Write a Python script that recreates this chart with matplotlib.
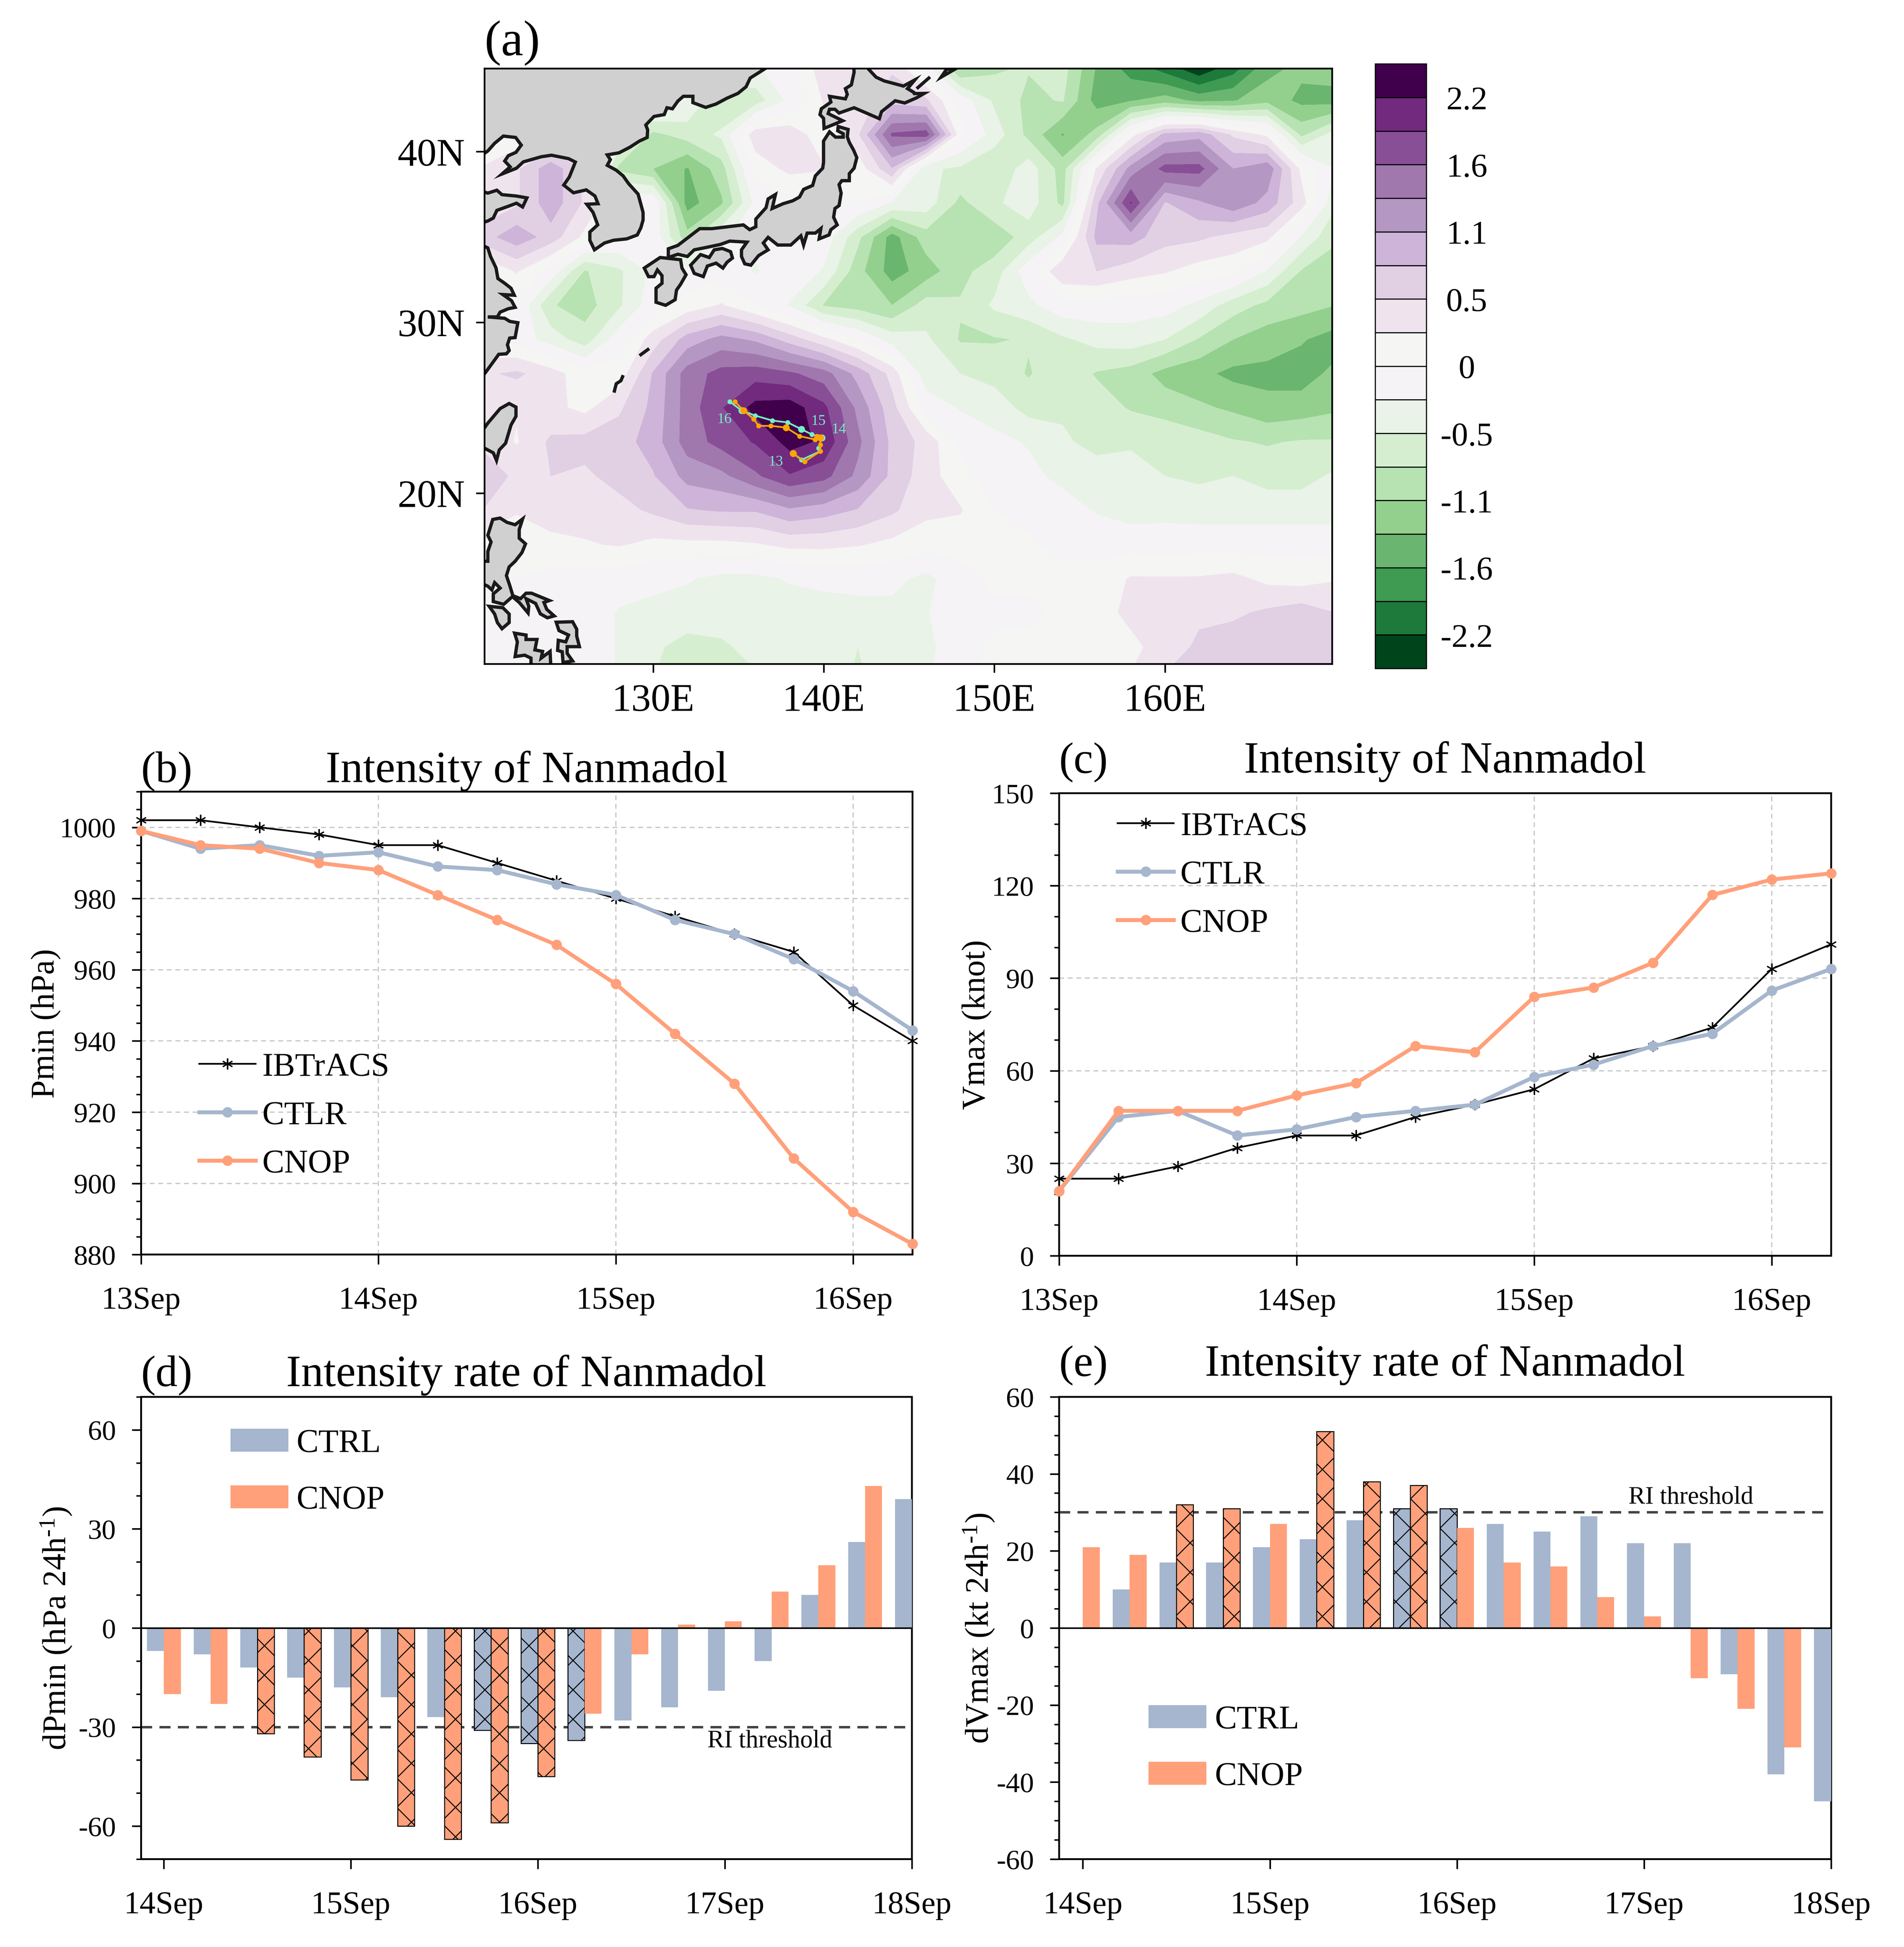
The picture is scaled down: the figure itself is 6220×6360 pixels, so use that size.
import matplotlib
matplotlib.use("Agg")
import matplotlib.pyplot as plt
import numpy as np
from matplotlib.patches import Polygon
from matplotlib.ticker import MultipleLocator

plt.rcParams["font.family"] = ["Liberation Serif", "DejaVu Serif"]
plt.rcParams["mathtext.fontset"] = "custom"
plt.rcParams["mathtext.rm"] = "Liberation Serif"
plt.rcParams["mathtext.default"] = "rm"
plt.rcParams["axes.unicode_minus"] = False
plt.rcParams["hatch.linewidth"] = 0.8

W, H = 6480, 6626

# --- panel (a): field, one row per latitude, 120E..170E every 2 deg
lons = np.arange(120, 171, 2)
lats = np.arange(45, 8, -2)
row45 = [.1, .1, .1, .1, .1, .1, .1, -.1, -.3, -.1, .45, .3, .5, -.2, -1.2, -.9, -.8, -.7, -1.4, -1.8, -2.1, -2.5, -2.1, -1.5, -1.3, -1.2]
row43 = [.1, .1, .1, .1, .1, 0, -.3, -.8, -.7, -.2, .3, .4, .7, .6, -.1, -.6, -.9, -.8, -1.5, -1.4, -1.25, -1.45, -1.4, -1.2, -1.45, -1.5]
row41 = [0, .1, .1, .1, -.3, -.9, -.7, -.5, .45, .45, .1, .5, 1.7, 1.8, .1, -.4, -.9, -1.4, -1.0, .15, .9, 1.0, .5, .2, -.9, -.4]
row39 = [.3, .5, 1.0, .5, -.9, -1.1, -1.4, -.95, .1, .35, .3, .1, .8, -.5, -.6, -.8, -.4, -.95, .3, 1.2, 1.75, 1.75, 1.1, 1.3, .2, -.3]
row37 = [.3, .5, 1.0, .5, 0, 0, -1.5, -1.15, -.2, -.1, -.1, 0, -.3, -.4, -.9, -.6, -.4, -.9, .75, 1.95, .8, 1.05, 1.3, 1.0, .4, -.5]
row35 = [.7, 1.0, .7, .2, 0, -.1, -1.0, -.3, -.2, -.2, -.1, -.75, -1.5, -.95, -1.0, -1.0, -.7, -.2, .9, .95, .65, .6, .45, .35, -.3, -.8]
row33 = [0, .3, -.1, -.85, -.6, -.2, -.2, -.1, -.3, -.1, -.3, -1.0, -1.5, -1.25, -.9, -.7, -.1, .5, .55, .4, .3, .15, .1, -.3, -.85, -.9]
row31 = [0, 0, -.8, -.95, -.6, -.1, .1, .3, 0, -.3, -.85, -.95, -1.1, -.7, -.8, -.5, -.35, -.1, -.1, -.15, -.15, -.35, -.7, -.9, -1.0, -1.1]
row29 = [0, -.1, -.4, -.7, -.1, .4, .95, 1.2, 1.05, .7, .35, 0, -.4, -.5, -.85, -.85, -.8, -.6, -.45, -.4, -.55, -.85, -1.1, -1.25, -1.35, -1.5]
row27 = [.5, .6, .4, .1, .1, .85, 1.5, 1.75, 1.8, 1.7, 1.5, 1.0, .45, -.45, -.55, -.65, -.85, -.65, -.85, -.95, -1.2, -1.3, -1.45, -1.45, -1.5, -1.3]
row25 = [.3, .3, .35, .2, .5, .9, 1.5, 1.9, 2.3, 2.35, 2.0, 1.3, .65, -.1, -.3, -.4, -.65, -.6, -.7, -.85, -.95, -1.05, -1.15, -1.3, -1.25, -1.15]
row23 = [.5, .25, .6, .65, .7, .95, 1.5, 1.75, 1.95, 2.3, 2.15, 1.45, .75, .45, -.05, -.2, -.3, -.5, -.65, -.6, -.6, -.7, -.8, -.85, -.8, -.8]
row21 = [.7, .5, .55, .5, .65, .8, 1.2, 1.3, 1.6, 1.9, 1.75, 1.3, .75, .4, .1, -.15, -.2, -.35, -.4, -.4, -.55, -.6, -.55, -.65, -.65, -.5]
row19 = [.55, .3, .4, .4, .45, .6, .8, .85, .85, 1.05, .95, .8, .6, .35, .3, 0, -.1, -.15, -.3, -.4, -.35, -.4, -.4, -.4, -.4, -.4]
row17 = [.1, .1, .2, .25, .3, .2, .2, .2, .25, .35, .35, .3, .2, .1, .1, .05, .05, -.1, -.1, -.1, -.15, -.1, -.1, -.1, -.1, -.1]
row15 = [-.1, 0, -.1, -.1, -.15, -.2, -.25, -.35, -.35, -.25, -.2, -.2, -.2, -.35, -.1, .05, .05, .1, .1, .3, .3, .3, .35, .2, .15, .25]
row13 = [-.1, -.1, -.1, -.1, -.3, -.35, -.4, -.4, -.4, -.4, -.4, -.35, -.35, -.3, -.05, -.05, -.05, .05, .15, .35, .45, .5, .5, .6, .7, .55]
row11 = [-.1, -.1, -.1, -.1, -.3, -.5, -.65, -.6, -.45, -.4, -.4, -.55, -.4, -.35, -.1, .05, .05, .1, .15, .2, .4, .6, .7, .75, .75, .75]
row09 = [-.1, -.1, -.1, -.1, -.3, -.55, -.65, -.55, -.6, -.45, -.4, -.6, -.4, -.3, -.1, .1, .1, .1, .2, .3, .6, .7, .75, .8, .8, .8]
field = np.array([row45, row43, row41, row39, row37, row35, row33, row31, row29, row27,
                  row25, row23, row21, row19, row17, row15, row13, row11, row09])

levels = np.linspace(-2.2, 2.2, 17)
level_colors = ["#00441b", "#1e7a3b", "#3f9a52", "#6ab670", "#93d08e", "#b7e2b2", "#d5eed0", "#e9f3e7", "#f5f3f6",
                "#f5f5f3", "#efe4ee", "#e1cfe4", "#cdb4d8", "#b497c3", "#a078ad", "#884f96", "#722a7f", "#40004b"]
cbar_labels = ["-2.2", "-1.6", "-1.1", "-0.5", "0", "0.5", "1.1", "1.6", "2.2"]

# coast polygons, lon/lat
land = [
    [(137.1, 45.2), (135.69, 44.31), (135.45, 43.8), (134.97, 43.41), (134.33, 43.13), (133.69, 42.79), (133.08, 42.59),
     (132.33, 42.87), (132.33, 43.24), (131.77, 43.24), (131.45, 42.96), (131.13, 42.51), (130.81, 42.57), (130.65, 42.17),
     (130.05, 42.06), (129.57, 41.56), (129.68, 41.27), (129.65, 40.83), (129.2, 40.62), (128.64, 40.26), (128.0, 39.93),
     (127.31, 39.81), (127.49, 39.53), (127.31, 39.2), (127.84, 38.91), (128.24, 38.58), (128.56, 38.13), (129.12, 37.51),
     (129.41, 36.44), (129.41, 35.99), (129.28, 35.54), (129.07, 35.12), (128.45, 34.89), (127.68, 34.81), (127.15, 34.65),
     (126.56, 34.25), (126.29, 34.81), (126.29, 35.29), (126.75, 35.71), (126.48, 36.44), (126.11, 36.92), (126.77, 36.95),
     (126.59, 37.4), (126.08, 37.76), (125.33, 37.59), (124.76, 38.04), (125.09, 38.52), (125.44, 39.39), (125.04, 39.59),
     (124.04, 39.79), (123.44, 39.7), (122.39, 39.4), (121.99, 39.03), (121.14, 38.69), (121.62, 39.11), (121.3, 39.45),
     (121.51, 39.76), (121.96, 39.96), (122.27, 40.38), (121.94, 40.83), (121.22, 40.91), (120.71, 40.49), (120.31, 40.04),
     (119.67, 39.59), (119, 46), (137.1, 46)],
    [(120.31, 37.57), (120.84, 37.74), (121.14, 37.48), (121.99, 37.4), (122.6, 37.29), (122.35, 36.76), (121.99, 36.98),
     (121.51, 36.8), (120.84, 36.56), (120.63, 36.11), (120.31, 35.94), (119, 35.5), (119, 38)],
    [(119, 35), (120.31, 34.36), (120.47, 33.86), (120.79, 33.19), (120.9, 32.57), (121.3, 32.29), (121.67, 32.0),
     (121.86, 31.59), (121.19, 31.63), (121.7, 31.27), (121.91, 30.88), (121.51, 30.8), (121.03, 30.6), (120.87, 30.32),
     (120.31, 30.32), (121.3, 30.24), (121.59, 30.06), (122.07, 29.98), (121.91, 29.11), (121.59, 29.08), (121.46, 28.69),
     (121.56, 28.35), (121.4, 28.16), (120.95, 28.13), (120.31, 27.25), (119, 25.5)],
    [(129.48, 33.18), (130.41, 33.8), (130.89, 33.75), (131.61, 33.67), (131.69, 33.18), (131.93, 32.79), (131.61, 32.23),
     (131.37, 31.89), (131.29, 31.33), (130.73, 31.0), (130.17, 31.18), (130.17, 32.0), (130.52, 32.29), (130.52, 32.74),
     (130.25, 33.07), (130.05, 32.68), (129.73, 32.68)],
    [(130.89, 33.8), (130.89, 34.31), (131.45, 34.51), (132.73, 35.49), (133.45, 35.49), (135.29, 35.71), (135.66, 35.43),
     (136.02, 35.6), (136.02, 36.05), (136.62, 36.72), (136.74, 37.23), (137.17, 37.49), (136.98, 36.67), (137.62, 36.95),
     (138.18, 37.12), (138.58, 37.34), (138.82, 37.79), (139.35, 38.02), (139.51, 38.58), (139.94, 39.03), (139.99, 39.37),
     (139.99, 40.62), (140.34, 41.16), (140.69, 40.85), (141.14, 40.85), (141.14, 41.05), (140.82, 41.22), (140.85, 41.47),
     (141.43, 41.3), (141.38, 40.88), (141.5, 40.54), (141.75, 40.09), (141.94, 39.65), (141.78, 39.03), (141.5, 38.71),
     (141.5, 38.3), (141.06, 38.3), (140.9, 38.07), (141.02, 37.57), (140.9, 36.84), (140.66, 36.67), (140.58, 36.16),
     (140.79, 35.71), (140.42, 35.43), (140.31, 35.12), (139.73, 34.89), (139.83, 35.49), (139.51, 35.23), (139.03, 35.23),
     (138.82, 34.53), (138.66, 35.07), (138.07, 34.53), (137.3, 34.53), (136.74, 34.98), (136.46, 34.65), (136.74, 34.25),
     (136.18, 33.91), (135.73, 33.35), (135.37, 33.43), (135.18, 33.86), (135.18, 34.25), (135.5, 34.7), (134.49, 34.76),
     (133.93, 34.56), (132.97, 34.36), (132.41, 34.25), (132.01, 33.86), (131.45, 33.99)],
    [(132.2, 33.35), (132.78, 33.97), (133.29, 33.8), (133.58, 34.25), (134.06, 34.33), (134.54, 34.14), (134.65, 33.77),
     (134.33, 33.52), (134.09, 33.18), (133.69, 33.47), (133.18, 33.3), (132.94, 32.68), (132.41, 32.87)],
    [(141.7, 46), (141.78, 44.65), (141.62, 43.91), (141.27, 43.69), (141.38, 43.35), (141.27, 43.09), (140.34, 43.24),
     (140.42, 42.9), (139.86, 42.51), (139.78, 42.17), (139.99, 41.95), (140.02, 41.36), (141.11, 41.81), (140.26, 42.23),
     (140.34, 42.48), (140.66, 42.48), (140.9, 42.26), (141.78, 42.57), (142.5, 42.26), (143.26, 41.93), (143.39, 42.34),
     (144.19, 42.98), (144.75, 42.85), (145.44, 43.15), (145.89, 43.41), (145.31, 43.4), (145.28, 43.47), (144.91, 43.69),
     (145.34, 44.2), (144.67, 43.84), (143.55, 44.14), (143.07, 44.36), (142.59, 44.87), (142.5, 46)],
    [(146.88, 44.36), (147.2, 44.82), (147.9, 44.95), (147.5, 44.72)],
    [(121.56, 25.25), (121.96, 25.04), (121.96, 24.5), (121.67, 23.99), (121.35, 22.92), (120.98, 22.53), (120.82, 21.91),
     (120.63, 22.36), (120.31, 22.53), (119.99, 22.7), (119.99, 23.65), (120.31, 24.1), (121.03, 24.95)],
    [(120.6, 18.46), (121.03, 18.54), (121.43, 18.29), (121.91, 18.15), (122.35, 18.49), (122.15, 17.87), (122.15, 17.36),
     (122.52, 17.03), (122.31, 16.52), (121.91, 16.01), (121.56, 15.68), (121.4, 15.17), (121.59, 14.61), (121.78, 13.99),
     (122.23, 13.82), (122.55, 14.14), (122.87, 14.14), (123.92, 13.71), (123.6, 13.6), (123.76, 13.2), (124.2, 12.81),
     (123.8, 12.7), (123.39, 12.93), (123.11, 13.54), (122.55, 13.82), (122.71, 13.38), (122.67, 12.98), (122.15, 13.6),
     (121.75, 13.94), (121.24, 13.49), (120.63, 13.65), (120.63, 14.1), (121.03, 14.44), (120.71, 14.76), (120.55, 14.33),
     (120.31, 14.55), (120.07, 14.66), (120.07, 16.01), (120.31, 16.01), (120.31, 16.58), (120.5, 17.14), (120.31, 17.53)],
    [(120.39, 13.37), (121.19, 13.29), (121.56, 12.92), (121.56, 12.42), (121.14, 12.06), (120.87, 12.42), (120.71, 12.92)],
    [(121.88, 11.8), (122.55, 11.69), (122.55, 11.43), (123.19, 11.43), (123.07, 10.82), (123.52, 10.73), (123.44, 10.34),
     (123.96, 10.73), (124.0, 9.9), (122.84, 9.9), (122.84, 10.34), (122.47, 10.51), (121.91, 10.43), (122.04, 11.29)],
    [(124.32, 12.44), (125.28, 12.47), (125.52, 12.03), (125.52, 11.63), (125.68, 11.01), (124.96, 11.01), (124.96, 10.62),
     (125.28, 10.17), (124.72, 10.08), (124.67, 10.71), (124.4, 10.79), (124.44, 11.38), (124.88, 11.29), (125.04, 11.69),
     (124.48, 11.95)],
]
islet_lines = [
    [(145.52, 43.75), (146.16, 44.31)],
    [(129.28, 28.11), (129.69, 28.41)],
    [(128.21, 26.82), (128.11, 26.58), (127.84, 26.41), (127.73, 25.98)],
]

track_ctrl_lon = [138.2, 138.7, 139.78, 139.7, 139.89, 139.66, 139.3, 138.7, 137.89, 136.99, 135.99, 135.2, 134.5]
track_ctrl_lat = [22.33, 21.95, 22.45, 22.64, 23.25, 23.32, 23.44, 23.74, 24.14, 24.25, 24.54, 24.83, 25.35]
track_ctrl_days = [0, 4, 7, 11]
track_cnop_lon = [138.2, 138.89, 139.8, 139.8, 139.81, 139.58, 139.49, 138.59, 137.79, 136.9, 136.18, 135.9, 135.3, 134.8]
track_cnop_lat = [22.33, 21.85, 22.45, 22.83, 23.25, 23.34, 23.14, 23.34, 23.84, 23.94, 23.94, 24.34, 24.84, 25.35]
track_cnop_days = [0, 4, 8, 12]
day_labels = ["13", "14", "15", "16"]
day_label_lon = [137.2, 140.89, 139.7, 134.18]
day_label_lat = [21.85, 23.74, 24.23, 24.34]

# --- panels (b)(c): every 6 h from 13 Sep 00
t_hours = np.arange(14) * 0.25
pmin_ib = [1002, 1002, 1000, 998, 995, 995, 990, 985, 980, 975, 970, 965, 950, 940]
pmin_ctrl = [999, 994, 995, 992, 993, 989, 988, 984, 981, 974, 970, 963, 954, 943]
pmin_cnop = [999, 995, 994, 990, 988, 981, 974, 967, 956, 942, 928, 907, 892, 883]
vmax_ib = [25, 25, 29, 35, 39, 39, 45, 49, 54, 64, 68, 74, 93, 101]
vmax_ctrl = [21, 45, 47, 39, 41, 45, 47, 49, 58, 62, 68, 72, 86, 93]
vmax_cnop = [21, 47, 47, 47, 52, 56, 68, 66, 84, 87, 95, 117, 122, 124]
line_ticks = ["13Sep", "14Sep", "15Sep", "16Sep"]

# --- panels (d)(e): 24 h rates, every 6 h from 14 Sep 00
t_rate = np.arange(17) * 0.25
dp_ctrl = [-7, -8, -12, -15, -18, -21, -27, -31, -35, -34, -28, -24, -19, -10, 10, 26, 39]
dp_cnop = [-20, -23, -32, -39, -46, -60, -64, -59, -45, -26, -8, 1, 2, 11, 19, 43]
dv_ctrl = [0, 10, 17, 17, 21, 23, 28, 31, 31, 27, 25, 29, 22, 22, -12, -38, -45]
dv_cnop = [21, 19, 32, 31, 27, 51, 38, 37, 26, 17, 16, 8, 3, -13, -21, -31]
dp_hatch_ctrl = [7, 8, 9]
dp_hatch_cnop = [2, 3, 4, 5, 6, 7, 8]
dv_hatch_ctrl = [7, 8]
dv_hatch_cnop = [2, 3, 5, 6, 7]
bar_ticks = ["14Sep", "15Sep", "16Sep", "17Sep", "18Sep"]

BLUE = "#a5b6ce"
ORANGE = "#ffa07a"


def px_axes(fig, x0, x1, y0, y1):
    return fig.add_axes([x0 / W, 1 - y1 / H, (x1 - x0) / W, (y1 - y0) / H])


def line_panel(ax, ib, ctrl, cnop, ylim, major, minor, ylabel, title, tag, pad, leg_xy, lab_x):
    ax.grid(True, color="#c8c8c8", lw=1.0, ls=(0, (4, 3)), which="major")
    ax.set_axisbelow(True)
    ax.plot(t_hours, ib, color="k", lw=1.4, marker=(6, 2, 0), ms=9, mew=1.0, clip_on=False, label="IBTrACS", zorder=3)
    ax.plot(t_hours, ctrl, color=BLUE, lw=3.2, marker="o", ms=7.5, clip_on=False, label="CTLR", zorder=4)
    ax.plot(t_hours, cnop, color=ORANGE, lw=3.2, marker="o", ms=7.5, clip_on=False, label="CNOP", zorder=5)
    ax.set_xlim(0, 3.25)
    ax.set_ylim(*ylim)
    ax.set_xticks(range(4))
    ax.set_xticklabels(line_ticks)
    ax.yaxis.set_major_locator(MultipleLocator(major))
    ax.yaxis.set_minor_locator(MultipleLocator(minor))
    style_ticks(ax)
    ax.set_ylabel(ylabel, fontsize=27)
    ax.yaxis.set_label_coords(lab_x, 0.5)
    ax.set_title(title, fontsize=36.5, pad=pad)
    ax.set_title(tag, fontsize=36, loc="left", pad=pad)
    ax.legend(loc="upper left", bbox_to_anchor=leg_xy, frameon=False, fontsize=27, borderpad=0, borderaxespad=0,
              handlelength=1.7, handletextpad=0.2, labelspacing=0.55)


def style_ticks(ax):
    for s in ax.spines.values():
        s.set_linewidth(1.5)
    ax.tick_params(axis="x", which="major", length=8, width=1.3, labelsize=26, pad=18)
    ax.tick_params(axis="y", which="major", length=7.5, width=1.3, labelsize=23, pad=13)
    ax.tick_params(axis="y", which="minor", length=4, width=1.2)


def bar_panel(ax, ctrl, cnop, hatch_ctrl, hatch_cnop, xlim, ylim, major, minor, ylabel, title, tag, pad, leg_xy, lab_x,
              thresh, ri_xy):
    w = 0.0905
    b1 = ax.bar(t_rate[:len(ctrl)] - w / 2, ctrl, w, color=BLUE, label="CTRL", zorder=3)
    b2 = ax.bar(t_rate[:len(cnop)] + w / 2, cnop, w, color=ORANGE, label="CNOP", zorder=3)
    for i in hatch_ctrl:
        b1[i].set_hatch("x")
        b1[i].set_edgecolor("k")
        b1[i].set_linewidth(0.8)
    for i in hatch_cnop:
        b2[i].set_hatch("x")
        b2[i].set_edgecolor("k")
        b2[i].set_linewidth(0.8)
    ax.axhline(0, color="k", lw=1.3, zorder=4)
    ax.axhline(thresh, color="#444444", lw=2.0, ls=(0, (4.5, 3)), zorder=2)
    ax.text(ri_xy[0], ri_xy[1], "RI threshold", fontsize=20.5, ha="center", va="center")
    ax.set_xlim(*xlim)
    ax.set_ylim(*ylim)
    ax.set_xticks(range(5))
    ax.set_xticklabels(bar_ticks)
    ax.yaxis.set_major_locator(MultipleLocator(major))
    ax.yaxis.set_minor_locator(MultipleLocator(minor))
    style_ticks(ax)
    ax.set_ylabel(ylabel, fontsize=27)
    ax.yaxis.set_label_coords(lab_x, 0.5)
    ax.set_title(title, fontsize=36.5, pad=pad)
    ax.set_title(tag, fontsize=36, loc="left", pad=pad)
    ax.legend(loc="upper left", bbox_to_anchor=leg_xy, frameon=False, fontsize=27, borderpad=0, borderaxespad=0,
              handlelength=1.75, handleheight=0.69, handletextpad=0.25, labelspacing=0.8)


fig = plt.figure(figsize=(W / 300, H / 300), dpi=300)

# (a)
ax = px_axes(fig, 1649, 4533, 234, 2260)
cf = ax.contourf(lons, lats, field, levels=levels, colors=level_colors, extend="both")
for poly in land:
    ax.add_patch(Polygon(poly, closed=True, fc="#d0d0d0", ec="#1a1a1a", lw=2.7, joinstyle="miter", zorder=3))
for seg in islet_lines:
    seg = np.array(seg)
    ax.plot(seg[:, 0], seg[:, 1], color="#1a1a1a", lw=2.7, zorder=3)
ax.plot(track_ctrl_lon, track_ctrl_lat, color="#76eec6", lw=1.4, marker="o", ms=3, zorder=5)
ax.plot(np.array(track_ctrl_lon)[track_ctrl_days], np.array(track_ctrl_lat)[track_ctrl_days], ls="", marker="o", ms=4.6,
        color="#76eec6", zorder=5)
ax.plot(track_cnop_lon, track_cnop_lat, color="#ffa500", lw=1.4, marker="o", ms=3, zorder=6)
ax.plot(np.array(track_cnop_lon)[track_cnop_days], np.array(track_cnop_lat)[track_cnop_days], ls="", marker="o", ms=4.6,
        color="#ffa500", zorder=6)
for s, lo, la in zip(day_labels, day_label_lon, day_label_lat):
    ax.text(lo, la, s, color="#76eec6", fontsize=12, ha="center", va="center", zorder=7)
ax.set_xlim(120.12, 169.8)
ax.set_ylim(10, 44.87)
ax.set_xticks([130, 140, 150, 160])
ax.set_xticklabels(["130E", "140E", "150E", "160E"])
ax.set_yticks([20, 30, 40])
ax.set_yticklabels(["20N", "30N", "40N"])
for s in ax.spines.values():
    s.set_linewidth(1.4)
    s.set_zorder(10)
ax.tick_params(length=7, width=1.3, labelsize=32, pad=9)
ax.set_title("(a)", fontsize=41, loc="left", pad=11)

cax = fig.add_axes([4680 / W, 1 - 2276 / H, (4854 - 4680) / W, (2276 - 219) / H])
cb = fig.colorbar(cf, cax=cax, ticks=levels[::2], extend="both", extendrect=True, extendfrac=1 / 16, drawedges=True)
cb.dividers.set_color("k")
cb.dividers.set_linewidth(0.9)
cb.outline.set_linewidth(0.9)
cb.ax.set_yticklabels(cbar_labels)
cb.ax.tick_params(length=0, labelsize=27, pad=33)
for lab in cb.ax.get_yticklabels():
    lab.set_ha("center")

# (b) (c)
ax = px_axes(fig, 480, 3105, 2695, 4270)
line_panel(ax, pmin_ib, pmin_ctrl, pmin_cnop, (880, 1010), 20, 5, "Pmin (hPa)", "Intensity of Nanmadol", "(b)", 8,
           (0.0756, 0.437), -0.104)
ax = px_axes(fig, 3604, 6231, 2700, 4274)
line_panel(ax, vmax_ib, vmax_ctrl, vmax_cnop, (0, 150), 30, 10, "Vmax (knot)", "Intensity of Nanmadol", "(c)", 17,
           (0.0757, 0.96), -0.087)

# (d) (e)
ax = px_axes(fig, 480, 3103, 4754, 6327)
bar_panel(ax, dp_ctrl, dp_cnop, dp_hatch_ctrl, dp_hatch_cnop, (-0.122, 4), (-70, 70), 30, 10,
          "dPmin (hPa 24h$^{\u20101}$)", "Intensity rate of Nanmadol", "(d)", 9, (0.116, 0.931), -0.088, -30, (3.24, -34.2))
ax = px_axes(fig, 3604, 6231, 4754, 6327)
bar_panel(ax, dv_ctrl, dv_cnop, dv_hatch_ctrl, dv_hatch_cnop, (-0.127, 4), (-60, 60), 20, 5,
          "dVmax (kt 24h$^{\u20101}$)", "Intensity rate of Nanmadol", "(e)", 17.5, (0.116, 0.333), -0.082, 30, (3.25, 33.9))

# the checker rejects pictures above 40 Mpx, so save slightly under the reference size
fig.savefig("out.png", dpi=288)
